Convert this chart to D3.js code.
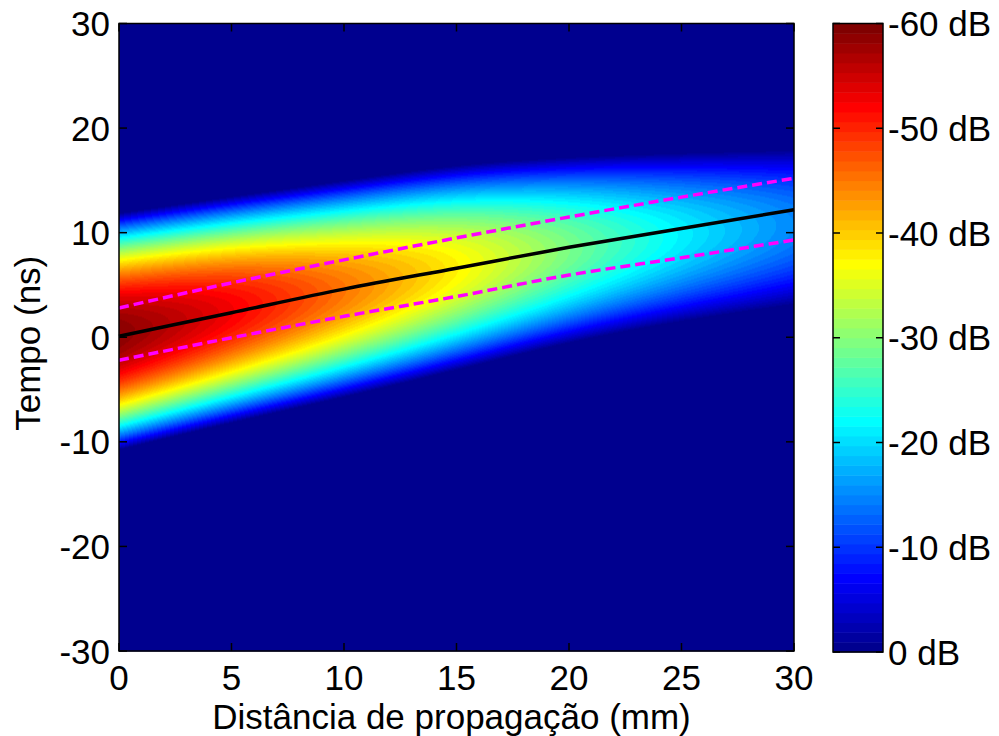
<!DOCTYPE html>
<html>
<head>
<meta charset="utf-8">
<script src="https://cdn.jsdelivr.net/npm/d3@7"></script>
<style>
  html, body { margin: 0; padding: 0; background: #fff; }
  svg text { font-family: "Liberation Sans", Arial, Helvetica, sans-serif; fill: #000; }
</style>
</head>
<body>
<svg id="chart" width="999" height="736"></svg>
<script>
// Propagation distance (mm) at which the pulse envelope was sampled
const distances = [0, 5, 10, 15, 20, 25, 30];
// Envelope centre (ns), peak level (dB magnitude) and reach above/below centre (ns)
const envelopeCenter = [0.3, 2.6, 4.5, 6.7, 8.5, 9.8, 10.8];
const envelopePeak = [59, 53, 45, 38, 29, 21, 15];
const envelopeReachUp = [11.6, 10.9, 10.5, 9.9, 8.8, 7.9, 7.2];
const envelopeReachDown = [11.1, 10.8, 10.3, 9.9, 9.0, 8.3, 7.8];
// Pulse centre trajectory and its bounds (ns)
const centreTrack = [0.1, 2.35, 4.6, 6.6, 8.6, 10.4, 12.2];
const upperTrack = [2.8, 5.2, 7.4, 9.5, 11.5, 13.4, 15.2];
const lowerTrack = [-2.2, -0.05, 2.0, 3.9, 5.95, 7.6, 9.3];
// Axis ticks
const xTicks = [0, 5, 10, 15, 20, 25, 30];
const yTicks = [-30, -20, -10, 0, 10, 20, 30];
const cbTicks = [0, 10, 20, 30, 40, 50, 60];
const cbLabels = ["0 dB", "-10 dB", "-20 dB", "-30 dB", "-40 dB", "-50 dB", "-60 dB"];

const svg = d3.select("#chart");
const FONT = 35;
const plot = { left: 119, right: 794, top: 23.5, bottom: 651 };
const cbar = { left: 833, right: 883, top: 23.5, bottom: 652 };

const x = d3.scaleLinear().domain([0, 30]).range([plot.left, plot.right]);
const y = d3.scaleLinear().domain([-30, 30]).range([plot.bottom, plot.top]);
const cy = d3.scaleLinear().domain([0, 60]).range([cbar.bottom, cbar.top]);

// 64-level jet colour map
function jet64() {
  const n = 16, u = [];
  for (let j = 1; j <= n; j++) u.push(j / n);
  for (let j = 0; j < n - 1; j++) u.push(1);
  for (let j = n; j >= 1; j--) u.push(j / n);
  const at = k => (k >= 1 && k <= u.length) ? u[k - 1] : 0;
  const out = [];
  for (let k = 1; k <= 64; k++) {
    out.push([at(k - 24), at(k - 8), at(k + 8)].map(c => Math.round(c * 255)));
  }
  return out;
}
const cmap = jet64();
const level = d3.scaleQuantize().domain([0, 60]).range(d3.range(64));

// Smooth envelope parameters along the propagation distance
const pos = d3.scaleLinear().domain([0, 30]).range([0, 1]).clamp(true);
const cInterp = d3.interpolateBasis(envelopeCenter);
const pInterp = d3.interpolateBasis(envelopePeak);
const uInterp = d3.interpolateBasis(envelopeReachUp);
const dInterp = d3.interpolateBasis(envelopeReachDown);

// Heat map raster
const W = Math.round(plot.right - plot.left), H = Math.round(plot.bottom - plot.top);
const canvas = document.createElement("canvas");
canvas.width = W; canvas.height = H;
const ctx = canvas.getContext("2d");
const img = ctx.createImageData(W, H);
for (let i = 0; i < W; i++) {
  const s = pos(x.invert(plot.left + i + 0.5));
  const tc = cInterp(s), pk = pInterp(s), ru = uInterp(s), rd = dInterp(s);
  for (let j = 0; j < H; j++) {
    const t = y.invert(plot.top + j + 0.5);
    const off = t - tc;
    const r = off >= 0 ? ru : rd;
    let v = pk * (1 - (off / r) * (off / r));
    if (v < 0) v = 0;
    const c = cmap[level(Math.min(v, 59.999))];
    const p = (j * W + i) * 4;
    img.data[p] = c[0]; img.data[p + 1] = c[1]; img.data[p + 2] = c[2]; img.data[p + 3] = 255;
  }
}
ctx.putImageData(img, 0, 0);
svg.append("image")
  .attr("x", plot.left).attr("y", plot.top)
  .attr("width", W).attr("height", H)
  .attr("preserveAspectRatio", "none")
  .attr("href", canvas.toDataURL());

// Trajectory lines
const line = vals => d3.line()
  .x((d, i) => x(distances[i]))
  .y(d => y(d))
  .curve(d3.curveMonotoneX)(vals);

svg.append("path").attr("d", line(upperTrack))
  .attr("fill", "none").attr("stroke", "#ff00ff").attr("stroke-width", 3.5)
  .attr("stroke-dasharray", "10,5");
svg.append("path").attr("d", line(lowerTrack))
  .attr("fill", "none").attr("stroke", "#ff00ff").attr("stroke-width", 3.5)
  .attr("stroke-dasharray", "10,5");
svg.append("path").attr("d", line(centreTrack))
  .attr("fill", "none").attr("stroke", "#000").attr("stroke-width", 3.5);

// Axes frame and inward ticks
const TL = 8;
const ax = svg.append("g").attr("stroke", "#000").attr("stroke-width", 1.5);
ax.append("rect").attr("x", plot.left).attr("y", plot.top)
  .attr("width", plot.right - plot.left).attr("height", plot.bottom - plot.top)
  .attr("fill", "none");
xTicks.forEach(v => {
  ax.append("line").attr("x1", x(v)).attr("x2", x(v)).attr("y1", plot.bottom).attr("y2", plot.bottom - TL);
  ax.append("line").attr("x1", x(v)).attr("x2", x(v)).attr("y1", plot.top).attr("y2", plot.top + TL);
});
yTicks.forEach(v => {
  ax.append("line").attr("x1", plot.left).attr("x2", plot.left + TL).attr("y1", y(v)).attr("y2", y(v));
  ax.append("line").attr("x1", plot.right).attr("x2", plot.right - TL).attr("y1", y(v)).attr("y2", y(v));
});

// Tick labels
const capH = FONT * 0.716;
svg.append("g").selectAll("text").data(xTicks).join("text")
  .attr("x", d => x(d)).attr("y", 690)
  .attr("text-anchor", "middle").attr("font-size", FONT).text(d => d);
svg.append("g").selectAll("text").data(yTicks).join("text")
  .attr("x", plot.left - 9).attr("y", d => y(d) + capH / 2)
  .attr("text-anchor", "end").attr("font-size", FONT).text(d => d);

// Axis titles
svg.append("text").attr("x", (plot.left + plot.right) / 2 - 5).attr("y", 729)
  .attr("text-anchor", "middle").attr("font-size", FONT).text("Distância de propagação (mm)");
svg.append("text").attr("transform", `translate(40,${(plot.top + plot.bottom) / 2 + 6}) rotate(-90)`)
  .attr("text-anchor", "middle").attr("font-size", FONT).text("Tempo (ns)");

// Colour bar
const cb = svg.append("g");
const step = 60 / 64;
cb.selectAll("rect.lvl").data(d3.range(64)).join("rect").attr("class", "lvl")
  .attr("x", cbar.left).attr("width", cbar.right - cbar.left)
  .attr("y", i => cy((i + 1) * step)).attr("height", i => cy(i * step) - cy((i + 1) * step) + 0.5)
  .attr("fill", i => `rgb(${cmap[i].join(",")})`);
const cbAx = cb.append("g").attr("stroke", "#000").attr("stroke-width", 1.5);
cbAx.append("rect").attr("x", cbar.left).attr("y", cbar.top)
  .attr("width", cbar.right - cbar.left).attr("height", cbar.bottom - cbar.top).attr("fill", "none");
cbTicks.forEach(v => {
  cbAx.append("line").attr("x1", cbar.left).attr("x2", cbar.left + 7).attr("y1", cy(v)).attr("y2", cy(v));
  cbAx.append("line").attr("x1", cbar.right).attr("x2", cbar.right - 7).attr("y1", cy(v)).attr("y2", cy(v));
});
cb.selectAll("text").data(cbTicks).join("text")
  .attr("x", cbar.right + 5).attr("y", d => cy(d) + capH / 2)
  .attr("font-size", FONT).text((d, i) => cbLabels[i]);
</script>
</body>
</html>
